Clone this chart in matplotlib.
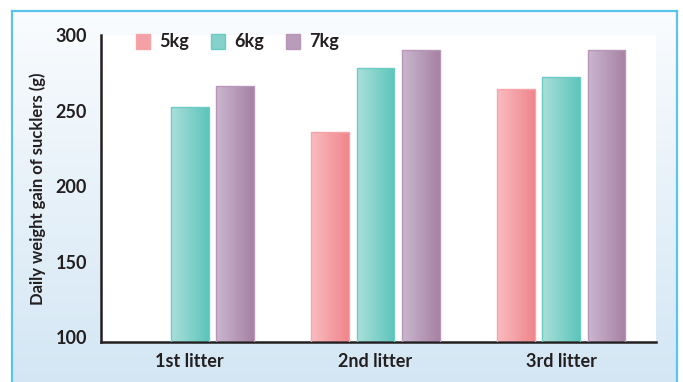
import numpy as np
import matplotlib
matplotlib.use("Agg")
import matplotlib.pyplot as plt
from matplotlib.colors import LinearSegmentedColormap, to_rgb
from matplotlib.patches import Patch

plt.rcParams['font.family'] = ['Lato', 'DejaVu Sans']

# Data
categories = ["1st litter", "2nd litter", "3rd litter"]
series_names = ["5kg", "6kg", "7kg"]
values_5kg = [np.nan, 236, 264]
values_6kg = [252, 278, 272]
values_7kg = [266, 290, 290]
y_ticks = [100, 150, 200, 250, 300]
y_label = "Daily weight gain of sucklers (g)"

# Styling: (light, dark, edge) per series
series_colors = [
    ("#f9bcbf", "#f0858d", "#f6a4aa"),
    ("#abdfda", "#5cc5bb", "#6ccbc2"),
    ("#cbb6cf", "#a681a3", "#b896b7"),
]
text_color = "#231f20"

W, H = 683, 382
fig = plt.figure(figsize=(W / 100, H / 100), dpi=100)
fig.patch.set_facecolor("white")

# Framed panel with vertical gradient
bg = fig.add_axes([12 / W, -0.02, 665 / W, (371 / H) + 0.02], zorder=0)
grad = np.linspace(0, 1, 256).reshape(-1, 1)
bg_cmap = LinearSegmentedColormap.from_list("bg", ["#d3e6f4", "#fafcfe"])
bg.imshow(grad, aspect="auto", cmap=bg_cmap, origin="lower",
          extent=[0, 1, 0, 1])
bg.set_xlim(0, 1)
bg.set_ylim(0, 1)
bg.set_xticks([])
bg.set_yticks([])
for side in ["top", "left", "right"]:
    bg.spines[side].set_color("#5bc4ec")
    bg.spines[side].set_linewidth(1.6)
bg.spines["bottom"].set_visible(False)

# Main axes
ax = fig.add_axes([101 / W, 40 / H, 555 / W, 307 / H], zorder=1)
ax.set_facecolor("white")

x = np.arange(len(categories))
width = 0.204
offset = 0.2435
all_values = [values_5kg, values_6kg, values_7kg]

ymin, ymax = 96.7, 300
for i, (vals, (c_light, c_dark, c_edge)) in enumerate(zip(all_values, series_colors)):
    heights = np.array(vals, dtype=float) - ymin
    bars = ax.bar(x + (i - 1) * offset, heights, width, bottom=ymin,
                  facecolor="none", edgecolor=c_edge, linewidth=1.0, zorder=3)
    cmap = LinearSegmentedColormap.from_list(f"s{i}", [c_light, c_dark])
    hgrad = np.linspace(0, 1, 128).reshape(1, -1)
    for patch, v in zip(bars.patches, vals):
        if np.isnan(v):
            continue
        bx, by = patch.get_x(), patch.get_y()
        bw, bh = patch.get_width(), patch.get_height()
        im = ax.imshow(hgrad, cmap=cmap, aspect="auto",
                       extent=[bx, bx + bw, by, by + bh], zorder=2)
        im.set_clip_path(patch)

ax.set_xlim(-0.478, 2.51)
ax.set_ylim(ymin, ymax)
ax.set_yticks(y_ticks)
ax.set_yticklabels([str(t) for t in y_ticks], fontweight="bold")
ax.set_xticks(x)
ax.set_xticklabels(categories, fontweight="bold")
ax.tick_params(axis="both", length=0, labelsize=13, colors=text_color)
ax.tick_params(axis="y", pad=10)
ax.tick_params(axis="x", pad=8)
for side in ["top", "right"]:
    ax.spines[side].set_visible(False)
for side in ["left", "bottom"]:
    ax.spines[side].set_color(text_color)
    ax.spines[side].set_linewidth(1.8)
ax.set_ylabel(y_label, fontsize=12, color=text_color, labelpad=7,
              fontweight="bold")

handles = [Patch(facecolor=(np.array(to_rgb(cl)) + np.array(to_rgb(cd))) / 2,
                 edgecolor=ce, linewidth=1.0)
           for (cl, cd, ce) in series_colors]
leg = ax.legend(handles, series_names, loc="upper left", ncol=3,
                bbox_to_anchor=(0.063, 1.005), frameon=False,
                borderpad=0, borderaxespad=0, handlelength=0.8,
                handleheight=0.9, handletextpad=0.5, columnspacing=1.2,
                prop={"size": 13, "weight": "bold"})
for t in leg.get_texts():
    t.set_color(text_color)

fig.savefig("out.png", dpi=100)
